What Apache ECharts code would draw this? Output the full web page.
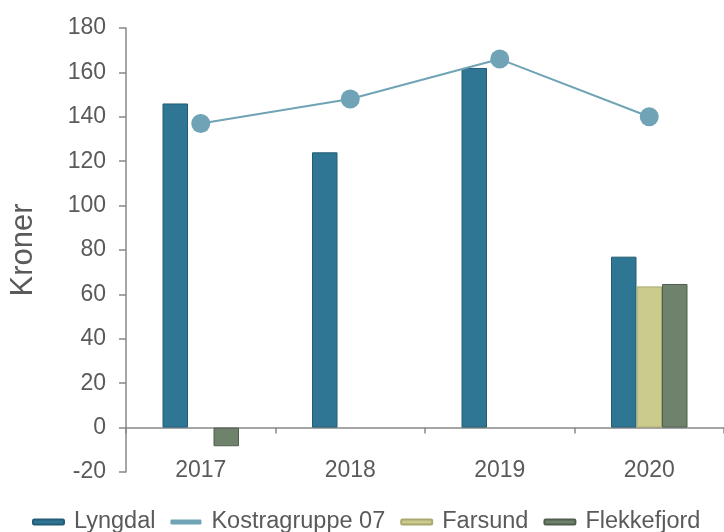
<!DOCTYPE html>
<html><head><meta charset="utf-8">
<script src="https://cdn.jsdelivr.net/npm/echarts@6/dist/echarts.min.js"></script>
<style>html,body{margin:0;padding:0;background:#fff}#c{width:724px;height:532px}</style>
</head><body><div id="c"></div>
<script>
const categories = ['2017', '2018', '2019', '2020'];
const lyngdal = [146, 124, 162, 77];
const kostragruppe = [137, 148, 166, 140];
const farsund = [null, null, null, 63.6];
const flekkefjord = [-8.4, null, null, 64.7];
const yTicks = [-20, 180, 20];

const font = 'Liberation Sans, Arial, sans-serif';
const chart = echarts.init(document.getElementById('c'), null, {renderer: 'canvas'});
chart.setOption({
  animation: false,
  textStyle: {fontFamily: font},
  grid: {left: 123, right: 0, top: 28, bottom: 60, containLabel: false},
  legend: {
    top: 505, left: 27,
    data: ['Lyngdal', 'Kostragruppe 07', 'Farsund', 'Flekkefjord'],
    icon: 'roundRect', itemWidth: 31, itemHeight: 5, itemGap: 15,
    textStyle: {fontSize: 23.5, color: '#5a5a5a', fontFamily: font, padding: [0, 0, 0, 5]}
  },
  xAxis: {
    type: 'category', data: categories,
    axisLine: {onZero: true, lineStyle: {color: '#888', width: 1.5}},
    axisTick: {show: true, length: 6, lineStyle: {color: '#888', width: 1.5}},
    axisLabel: {fontSize: 23, color: '#5a5a5a', margin: -13, fontFamily: font}
  },
  yAxis: {
    type: 'value', min: yTicks[0], max: yTicks[1], interval: yTicks[2],
    name: 'Kroner', nameLocation: 'middle', nameGap: 87, nameRotate: 90,
    nameTextStyle: {fontSize: 31, color: '#5a5a5a', fontFamily: font},
    axisLine: {show: true, lineStyle: {color: '#888', width: 1.5}},
    axisTick: {show: true, length: 7, lineStyle: {color: '#888', width: 1.5}},
    splitLine: {show: false},
    axisLabel: {fontSize: 23, color: '#5a5a5a', margin: 20, fontFamily: font}
  },
  series: [
    {name: 'Lyngdal', type: 'bar', data: lyngdal, barWidth: 25.5, barGap: '0%',
     itemStyle: {color: '#2f7694', borderColor: '#235c74', borderWidth: 1}},
    {name: 'Farsund', type: 'bar', data: farsund, barWidth: 25.5, barGap: '0%',
     itemStyle: {color: '#cbcb8c', borderColor: '#a8a870', borderWidth: 1}},
    {name: 'Flekkefjord', type: 'bar', data: flekkefjord, barWidth: 25.5, barGap: '0%',
     itemStyle: {color: '#6f826c', borderColor: '#4f5f4d', borderWidth: 1}},
    {name: 'Kostragruppe 07', type: 'line', data: kostragruppe, symbol: 'circle', symbolSize: 19,
     lineStyle: {color: '#6fa3b5', width: 2}, itemStyle: {color: '#6fa3b5'}, z: 5}
  ]
});
</script></body></html>
